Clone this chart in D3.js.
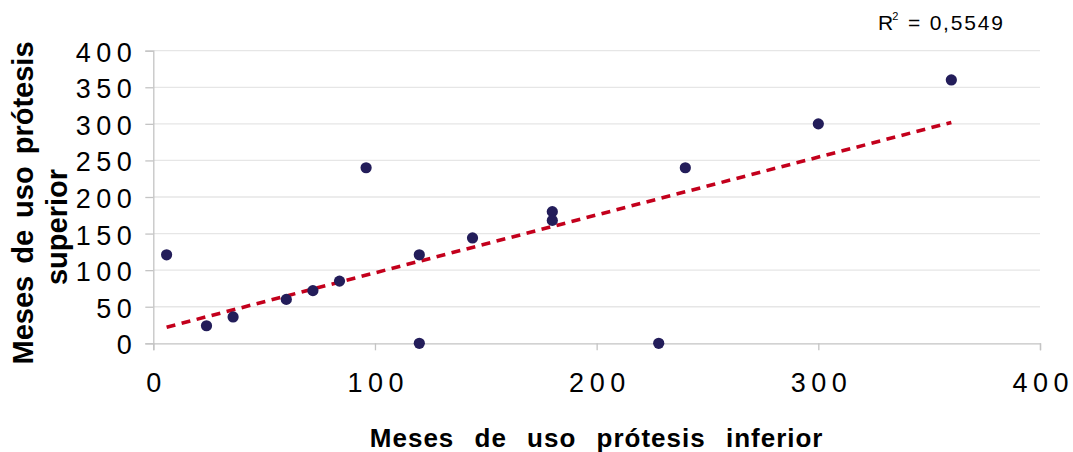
<!DOCTYPE html>
<html>
<head>
<meta charset="utf-8">
<script src="https://cdn.jsdelivr.net/npm/d3@7"></script>
<style>
  body { margin: 0; background: #fff; }
  svg { display: block; font-family: "Liberation Sans", Arial, sans-serif; }
</style>
</head>
<body>
<div id="chart"></div>
<script>
const width = 1073;
const height = 452;

// meses de uso: prótesis inferior (x) vs prótesis superior (y)
const mesesInferior = [6, 24, 36, 60, 72, 84, 96, 120, 120, 144, 180, 180, 228, 240, 300, 360];
const mesesSuperior = [121, 24, 36, 60, 72, 85, 240, 121, 0, 144, 180, 168, 0, 240, 300, 360];

// linear trend line as drawn in the original (ends)
const trendX = [6, 360];
const trendY = [22, 302];

const xTicks = [0, 100, 200, 300, 400];
const yTicks = [0, 50, 100, 150, 200, 250, 300, 350, 400];
const r2Label = "0,5549";

const points = mesesInferior.map((d, i) => ({ x: d, y: mesesSuperior[i] }));
const trend = trendX.map((d, i) => ({ x: d, y: trendY[i] }));

const x = d3.scaleLinear().domain([0, 400]).range([153.3, 1040]);
const y = d3.scaleLinear().domain([0, 400]).range([343.3, 50.7]);

const svg = d3.select("#chart").append("svg")
    .attr("width", width)
    .attr("height", height);

// gridlines
svg.append("g")
    .selectAll("line")
    .data(yTicks.filter(d => d > 0))
    .join("line")
    .attr("x1", x(0)).attr("x2", x(400))
    .attr("y1", d => y(d)).attr("y2", d => y(d))
    .attr("stroke", "#e6e6e6")
    .attr("stroke-width", 1.3);

// axes
const tickFont = 27;
const ls = 5.5;

const yAxis = svg.append("g")
    .attr("transform", `translate(${x(0)},0)`)
    .call(d3.axisLeft(y).tickValues(yTicks).tickSize(8).tickPadding(0).tickFormat(d3.format("d")));
yAxis.select(".domain").attr("stroke", "#c4c4c4").attr("stroke-width", 1.3);
yAxis.selectAll(".tick line").attr("stroke", "#c4c4c4").attr("stroke-width", 1.3);
yAxis.selectAll(".tick text")
    .attr("x", -(x(0) - 131.7) + ls)
    .attr("dy", null)
    .attr("y", 10.5)
    .attr("font-size", tickFont)
    .attr("letter-spacing", ls)
    .attr("fill", "#000")
    .attr("font-family", "Liberation Sans, Arial, sans-serif");

const xAxis = svg.append("g")
    .attr("transform", `translate(0,${y(0)})`)
    .call(d3.axisBottom(x).tickValues(xTicks).tickSize(7).tickPadding(0).tickFormat(d3.format("d")));
xAxis.select(".domain").attr("stroke", "#c4c4c4").attr("stroke-width", 1.3);
xAxis.selectAll(".tick line").attr("stroke", "#c4c4c4").attr("stroke-width", 1.3);
xAxis.selectAll(".tick text")
    .attr("dy", null)
    .attr("y", 391.7 - y(0))
    .attr("dx", ls / 2)
    .attr("font-size", tickFont)
    .attr("letter-spacing", ls)
    .attr("fill", "#000")
    .attr("font-family", "Liberation Sans, Arial, sans-serif");

// trend line
svg.append("path")
    .datum(trend)
    .attr("fill", "none")
    .attr("stroke", "#c3001c")
    .attr("stroke-width", 3.6)
    .attr("stroke-dasharray", "9,6.5")
    .attr("d", d3.line().x(d => x(d.x)).y(d => y(d.y)));

// points
svg.append("g")
    .selectAll("circle")
    .data(points)
    .join("circle")
    .attr("cx", d => x(d.x))
    .attr("cy", d => y(d.y))
    .attr("r", 5.6)
    .attr("fill", "#231d5a");

// R² label
const r2 = svg.append("text")
    .attr("x", 878)
    .attr("y", 29.5)
    .attr("font-size", 21)
    .attr("fill", "#000");
r2.append("tspan").text("R");
r2.append("tspan").attr("font-size", 11).attr("dx", -1).attr("dy", -10).text("2");
r2.append("tspan").attr("dy", 10).attr("dx", 2).attr("letter-spacing", 1.8).text(" = " + r2Label);

// axis titles
svg.append("text")
    .attr("x", (x(0) + x(400)) / 2)
    .attr("y", 447)
    .attr("text-anchor", "middle")
    .attr("font-size", 26)
    .attr("font-weight", "bold")
    .attr("letter-spacing", 1)
    .attr("word-spacing", 12)
    .text("Meses de uso prótesis inferior");

svg.append("text")
    .attr("transform", "translate(33,203) rotate(-90)")
    .attr("text-anchor", "middle")
    .attr("font-size", 29)
    .attr("font-weight", "bold")
    .attr("word-spacing", 4)
    .text("Meses de uso prótesis");

svg.append("text")
    .attr("transform", "translate(67,227) rotate(-90)")
    .attr("text-anchor", "middle")
    .attr("font-size", 29)
    .attr("font-weight", "bold")
    .attr("word-spacing", 4)
    .text("superior");
</script>
</body>
</html>
